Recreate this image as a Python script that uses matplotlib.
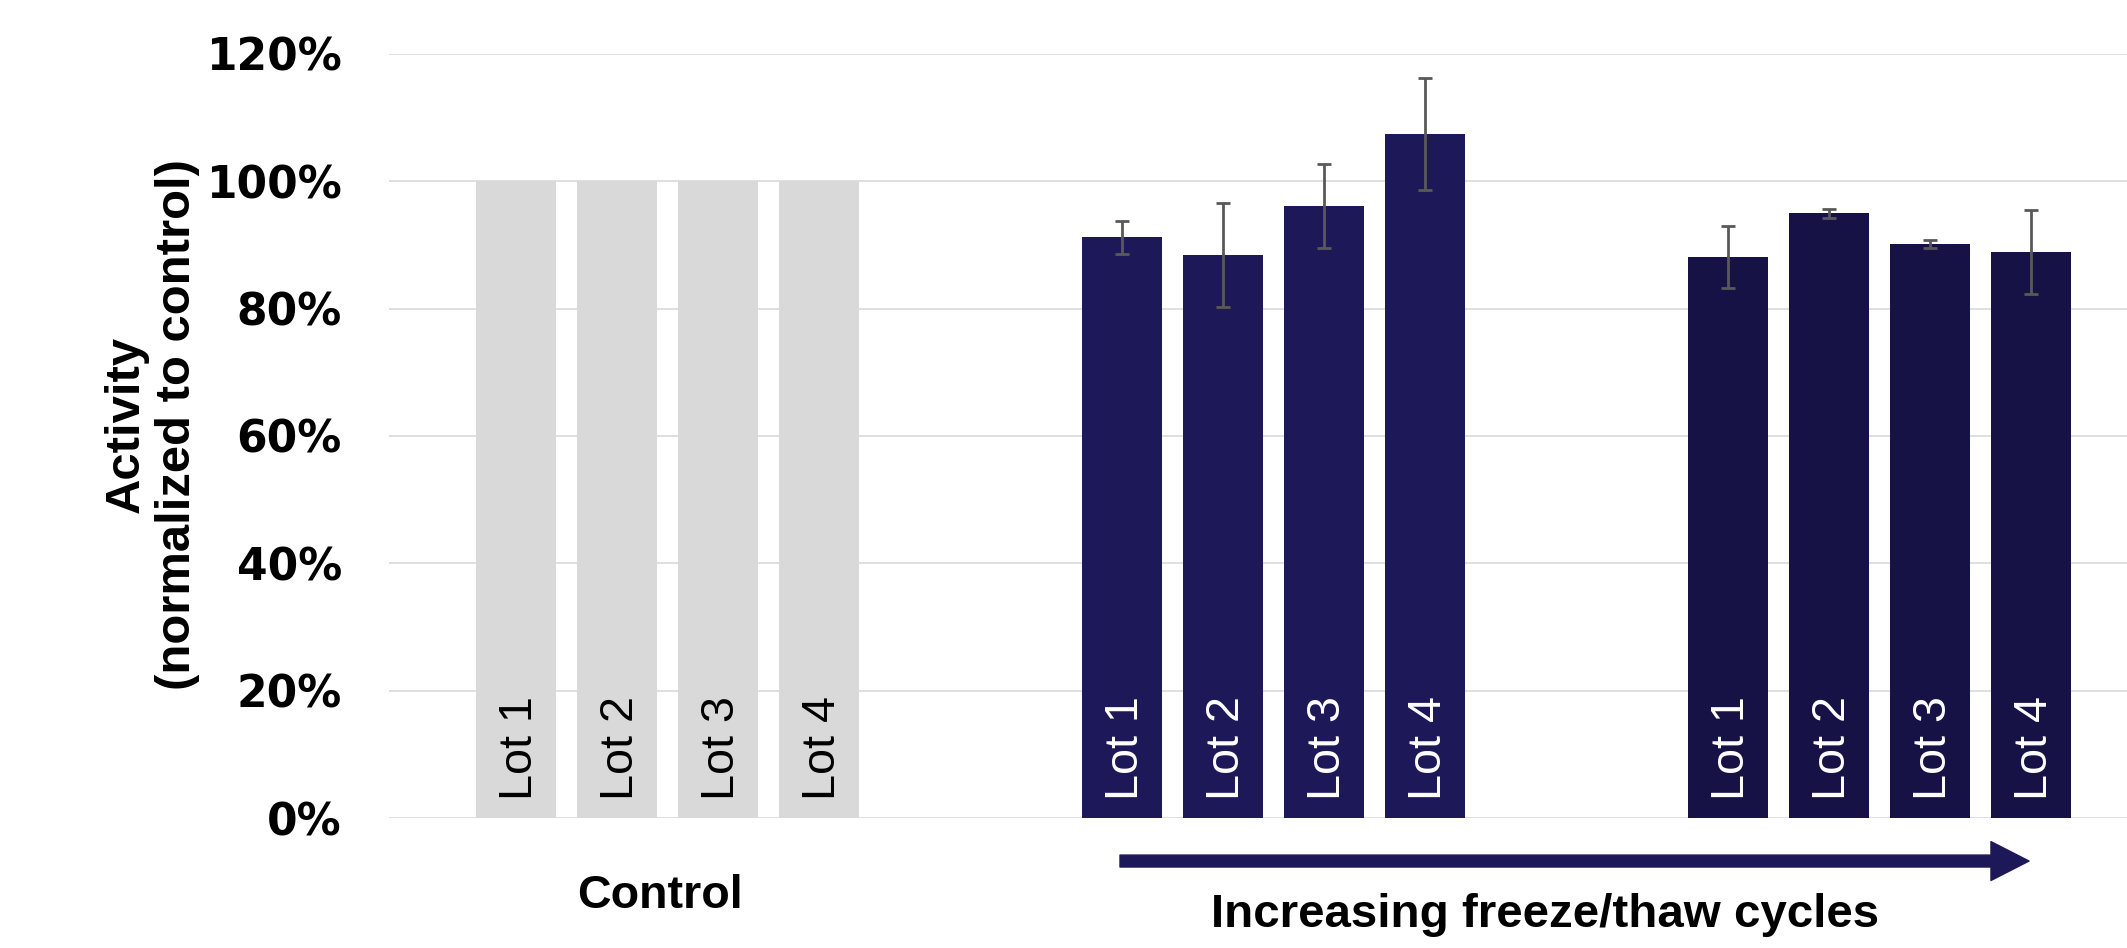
#!/usr/bin/env python
import numpy as np
import matplotlib
matplotlib.use('Agg')
import matplotlib.pyplot as plt
from matplotlib.patches import FancyArrowPatch, ArrowStyle
import matplotlib.transforms as mtransforms

# data (activity in %)
lots = ['Lot 1', 'Lot 2', 'Lot 3', 'Lot 4']
control = [100., 100., 100., 100.]
ft_low = [91.2, 88.4, 96.1, 107.4]
ft_low_err = [2.6, 8.2, 6.6, 8.8]
ft_high = [88.1, 95.0, 90.1, 88.9]
ft_high_err = [4.9, 0.7, 0.65, 6.6]
yticks = [0, 20, 40, 60, 80, 100, 120]
group_labels = ['Control', 'Increasing freeze/thaw cycles']

def plot_freeze_thaw():
	# set-up
	fig = plt.figure(figsize=(21.27, 9.48), dpi=100)
	ax = fig.add_axes([0.1829, 0.1371, 0.8171, 0.806])

	gray = '#D9D9D9'
	navy = '#1D1959'
	navy2 = '#161246'
	errcol = '#595959'
	width = 0.79

	x1 = np.arange(4)
	x2 = np.arange(4) + 6
	x3 = np.arange(4) + 12

	ax.bar(x1, control, width, color=gray, zorder=2)
	ax.bar(x2, ft_low, width, color=navy, zorder=2)
	ax.bar(x3, ft_high, width, color=navy2, zorder=2)
	ax.errorbar(x2, ft_low, yerr=ft_low_err, fmt='none', ecolor=errcol, elinewidth=2.0, capsize=4.7, capthick=2.0, zorder=3)
	ax.errorbar(x3, ft_high, yerr=ft_high_err, fmt='none', ecolor=errcol, elinewidth=2.0, capsize=4.7, capthick=2.0, zorder=3)

	# lot labels inside the bars
	for xs, col in [(x1, 'black'), (x2, 'white'), (x3, 'white')]:
		for x, lab in zip(xs, lots):
			ax.annotate(lab, xy=(x, 0), xytext=(3, 13), textcoords='offset points',
				rotation=90, ha='center', va='bottom', color=col,
				fontsize=33.7, family='Liberation Sans', zorder=4)

	# axes
	ax.set_xlim(-1.257, 15.95)
	ax.set_ylim(0, 120)
	ax.set_yticks(yticks)
	ax.set_yticklabels(['%d%%' % t for t in yticks], fontsize=31.7, fontweight='bold', family='DejaVu Sans')
	ax.tick_params(axis='y', length=0, pad=34)
	ax.set_xticks([])
	for s in ax.spines.values():
		s.set_visible(False)
	ax.yaxis.grid(True, color=gray, linewidth=1.2, zorder=0)
	ax.set_axisbelow(True)

	fig.text(0.0715, 0.552, 'Activity\n(normalized to control)', rotation=90, ha='center', va='center',
		fontsize=35.3, fontweight='bold', family='Liberation Sans', linespacing=1.16)

	# group labels and arrow below the axis
	trans = mtransforms.blended_transform_factory(ax.transData, ax.transAxes)
	ax.text(1.43, -0.118, group_labels[0], transform=trans, ha='center', va='baseline',
		fontsize=33.6, fontweight='bold', family='Liberation Sans')
	ax.text(10.19, -0.143, group_labels[1], transform=trans, ha='center', va='baseline',
		fontsize=34.2, fontweight='bold', family='Liberation Sans')
	arr = FancyArrowPatch((x2[0] - 0.02, -0.0563), (x3[-1] - 0.02, -0.0563), transform=trans,
		arrowstyle=ArrowStyle('simple', head_length=27.4, head_width=28, tail_width=8.6),
		mutation_scale=1, color=navy, shrinkA=0, shrinkB=0, clip_on=False)
	ax.add_patch(arr)

	plt.savefig('out.png', dpi=100)

if __name__ == "__main__":
	plot_freeze_thaw()
